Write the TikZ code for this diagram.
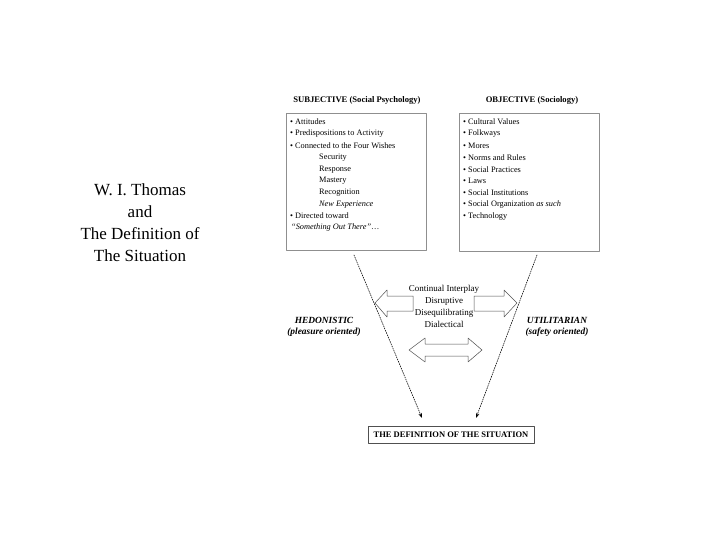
\documentclass[tikz,border=0pt]{standalone}
\usepackage{fontspec}
\setmainfont{Liberation Serif}
\usetikzlibrary{arrows.meta, positioning}
\definecolor{boxgray}{HTML}{8F8F8F}
\definecolor{inkgray}{HTML}{505050}
\tikzset{
  >={Stealth[length=5pt, width=3.5pt]},
  every picture/.style={line cap=round, line join=round},
  listbox/.style={draw=boxgray, line width=0.6pt, inner sep=0pt, anchor=north west},
  heading/.style={font=\fontsize{8.6}{9}\selectfont\bfseries, inner sep=0pt},
  item/.style={anchor=west, font=\fontsize{8.3}{9}\selectfont, inner sep=0pt},
  flow/.style={->, line width=0.6pt, dash pattern=on 1.2pt off 1.2pt},
  hollow/.style={draw=inkgray, fill=white, line width=0.5pt},
  side/.style={font=\fontsize{9.4}{11.5}\selectfont\bfseries\itshape, align=center, inner sep=0pt},
}
\begin{document}
\begin{tikzpicture}[x=1pt, y=-1pt]
  \useasboundingbox (0,0) rectangle (720,540);
  % ---------------- title
  \node[align=center, font=\fontsize{17}{22}\selectfont] (title) at (140,223)
    {W. I. Thomas\\and\\The Definition of\\The Situation};
  % ---------------- subjective side
  \node[heading] (subjhead) at (357,100) {SUBJECTIVE (Social Psychology)};
  \node[listbox, minimum width=140pt, minimum height=137pt] (subj) at (286,113) {};
  \foreach \t [count=\i from 0] in {Attitudes, Predispositions to Activity, Connected to the Four Wishes}
    \node[item] at (290,122+11.8*\i) {\textbullet\ \t};
  \foreach \t [count=\i from 3] in {Security, Response, Mastery, Recognition, \textit{New Experience}}
    \node[item] at (319,122+11.8*\i) {\t};
  \node[item] at (290,216) {\textbullet\ Directed toward};
  \node[item] at (291,228) {\textit{``Something Out There''}\ldots};
  % ---------------- objective side
  \node[heading] (objhead) at (532,100) {OBJECTIVE (Sociology)};
  \node[listbox, minimum width=140pt, minimum height=138pt] (obj) at (459,113) {};
  \foreach \t [count=\i from 0] in {Cultural Values, Folkways, Mores, Norms and Rules, Social Practices,
      Laws, Social Institutions, Social Organization \textit{as such}, Technology}
    \node[item] at (463,122+11.8*\i) {\textbullet\ \t};
  % ---------------- the two orientations
  \node[side] (hedon) at (324,327) {HEDONISTIC\\(pleasure oriented)};
  \node[side] (util) at (557,327) {UTILITARIAN\\(safety oriented)};
  \node[align=center, font=\fontsize{9}{12}\selectfont, inner sep=0pt] (inter) at (444,306)
    {Continual Interplay\\Disruptive\\Disequilibrating\\Dialectical};
  % hollow block arrows
  \draw[hollow] (375,303) -- (387,290) -- (387,296) -- (413,296) -- (413,311) -- (387,311) -- (387,317) -- cycle;
  \draw[hollow] (517,303) -- (504,290) -- (504,296) -- (474,296) -- (474,311) -- (504,311) -- (504,317) -- cycle;
  \draw[hollow] (409,350) -- (425,338) -- (425,344) -- (468,344) -- (468,338) -- (482,350)
    -- (468,362) -- (468,356) -- (425,356) -- (425,362) -- cycle;
  % ---------------- result
  \node[draw=inkgray, line width=0.6pt, minimum width=166pt, minimum height=17pt, inner sep=0pt,
    font=\fontsize{8.5}{9}\selectfont\bfseries] (defsit) at (451,435) {THE DEFINITION OF THE SITUATION};
  \coordinate (subjout) at (354,255);
  \coordinate (objout) at (537,255);
  \coordinate (defleft) at (422,418);
  \coordinate (defright) at (476,418);
  \draw[flow] (subjout) -- (defleft);
  \draw[flow] (objout) -- (defright);
\end{tikzpicture}
\end{document}
